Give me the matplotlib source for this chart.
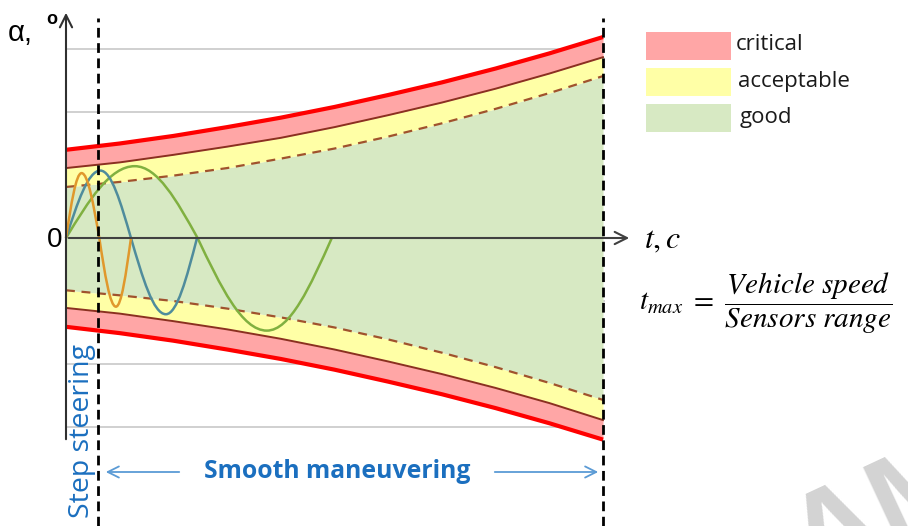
import numpy as np
import matplotlib
matplotlib.use("Agg")
import matplotlib.pyplot as plt
from matplotlib.patches import Rectangle, FancyArrowPatch, PathPatch
from matplotlib.path import Path

# envelope samples (t, degrees)
t_env = [0, 1, 2, 3, 4, 5, 6, 7, 8, 9, 10]
red_up = [1.40, 1.50, 1.62, 1.76, 1.91, 2.08, 2.27, 2.47, 2.69, 2.93, 3.19]
brown_up = [1.11, 1.20, 1.32, 1.45, 1.59, 1.76, 1.95, 2.15, 2.37, 2.61, 2.87]
dash_up = [0.81, 0.89, 0.99, 1.11, 1.26, 1.42, 1.61, 1.82, 2.05, 2.30, 2.57]
red_lo = [-1.41, -1.51, -1.63, -1.77, -1.92, -2.09, -2.28, -2.48, -2.70, -2.94, -3.20]
brown_lo = [-1.11, -1.20, -1.32, -1.45, -1.60, -1.77, -1.96, -2.16, -2.38, -2.62, -2.89]
dash_lo = [-0.83, -0.91, -1.00, -1.12, -1.26, -1.42, -1.61, -1.82, -2.05, -2.30, -2.57]

# steering responses: zero crossings and extremes
t_orange = [0, 0.29, 0.62, 0.93, 1.21]
a_orange = [0, 1.03, 0, -1.09, 0]
t_blue = [0, 0.64, 1.21, 1.86, 2.44]
a_blue = [0, 1.07, 0, -1.21, 0]
t_green = [0, 1.28, 2.45, 3.74, 4.95]
a_green = [0, 1.14, 0, -1.47, 0]

grid_levels = [-3, -2, -1, 1, 2, 3]
t_step = 0.6
t_end = 10

W, H = 908, 526
fig = plt.figure(figsize=(W / 100, H / 100), dpi=100)
ax = fig.add_axes([0, 0, 1, 1])
# 53.7 px per t unit, 63 px per degree, origin at pixel (66, 238)
ax.set_xlim(-66 / 53.7, (W - 66) / 53.7)
ax.set_ylim(-(H - 238) / 63, 238 / 63)
ax.axis("off")


def fx(px):
    return px / W


def fy(py):
    return 1 - py / H


def wave(ts, ys, color):
    # smooth quarter-wave bezier segments through zero crossings and extremes
    verts = [(ts[0], ys[0])]
    codes = [Path.MOVETO]
    for i in range(len(ts) - 1):
        x0, y0, x1, y1 = ts[i], ys[i], ts[i + 1], ys[i + 1]
        dx = x1 - x0
        if y0 == 0:
            c1 = (x0 + 0.334 * dx, 0.525 * y1)
            c2 = (x0 + 0.64 * dx, y1)
        else:
            c1 = (x0 + 0.36 * dx, y0)
            c2 = (x0 + 0.666 * dx, 0.525 * y0)
        verts += [c1, c2, (x1, y1)]
        codes += [Path.CURVE4] * 3
    ax.add_patch(PathPatch(Path(verts, codes), fc="none", ec=color, lw=1.8,
                           zorder=5))


ax.hlines(grid_levels, 0, t_end + 0.03, color="#c8c8c8", lw=1.2, zorder=1)

ax.fill_between(t_env, dash_lo, dash_up, color="#d7e9c3", lw=0, zorder=2)
ax.fill_between(t_env, dash_up, brown_up, color="#ffffa6", lw=0, zorder=2)
ax.fill_between(t_env, dash_lo, brown_lo, color="#ffffa6", lw=0, zorder=2)
ax.fill_between(t_env, brown_up, red_up, color="#ffa6a6", lw=0, zorder=2)
ax.fill_between(t_env, brown_lo, red_lo, color="#ffa6a6", lw=0, zorder=2)

for y in (dash_up, dash_lo):
    ax.plot(t_env, y, color="#a0522d", lw=1.6, ls=(0, (4, 3)), zorder=4)
for y in (brown_up, brown_lo):
    ax.plot(t_env, y, color="#8b3020", lw=1.4, zorder=4)
for y in (red_up, red_lo):
    ax.plot(t_env, y, color="#ff0000", lw=3, zorder=4, solid_capstyle="butt")

wave(t_green, a_green, "#80b040")
wave(t_blue, a_blue, "#4f8c9c")
wave(t_orange, a_orange, "#e0982c")

# axes with arrows
ax.annotate("", xy=(0, 238 / 63 - 10 / 63), xytext=(0, -(442 - 238) / 63),
            arrowprops=dict(arrowstyle="->", color="#303030", lw=1.5,
                            mutation_scale=22), zorder=6)
ax.annotate("", xy=((632 - 66) / 53.7, 0), xytext=(0, 0),
            arrowprops=dict(arrowstyle="->", color="#404040", lw=1.5,
                            mutation_scale=22), zorder=6)

for tv in (t_step, t_end):
    ax.plot([tv, tv], [-(H - 238) / 63, (238 - 18) / 63], color="black", lw=2,
            ls=(0, (3.5, 2)), zorder=7)

# labels
fig.text(fx(8), fy(33), "α,", fontsize=21, family="Liberation Sans", va="center")
fig.text(fx(46), fy(20), "o", fontsize=13, family="Liberation Sans",
         fontweight="bold", va="center")
fig.text(fx(62), fy(240), "0", fontsize=20, family="Liberation Sans",
         ha="right", va="center")

plt.rcParams["mathtext.fontset"] = "stix"
fig.text(fx(644), fy(240), "$t, c$", fontsize=23, va="center")
fig.text(fx(639), fy(303), r"$t_{max}\ =\ \dfrac{Vehicle\ speed}{Sensors\ range}$",
         fontsize=21, va="center")

blue_txt = "#1b6fbf"
fig.text(fx(82), fy(431), "Step steering", fontsize=20.5, family="Open Sans",
         rotation=90, color=blue_txt, ha="center", va="center")
fig.text(fx(337), fy(472), "Smooth maneuvering", fontsize=17.8, family="Open Sans",
         fontweight="bold", color=blue_txt, ha="center", va="center")
arr_kw = dict(arrowstyle="->", color="#5b9bd5", lw=1.3, mutation_scale=20)
fig.patches.append(FancyArrowPatch((fx(182), fy(472)), (fx(103), fy(472)),
                                   transform=fig.transFigure, **arr_kw))
fig.patches.append(FancyArrowPatch((fx(492), fy(472)), (fx(601), fy(472)),
                                   transform=fig.transFigure, **arr_kw))

# legend
leg_items = [("critical", "#ffa6a6"), ("acceptable", "#ffffa6"), ("good", "#d7e9c3")]
for i, (lab, col) in enumerate(leg_items):
    y0 = 32 + i * 36
    fig.patches.append(Rectangle((fx(646), fy(y0 + 28)), 85 / W, 28 / H,
                                 transform=fig.transFigure, color=col, lw=0))
    fig.text(fx(736 + 2 * i), fy(y0 + 13), lab, fontsize=16, family="Open Sans",
             va="center", color="#1a1a1a")

# faint watermark, clipped by the figure edge as in the source
fig.text(fx(885), fy(515), "AM", fontsize=90, family="Liberation Sans",
         fontweight="bold", color="#d3d3d3", rotation=25, ha="center", va="center",
         zorder=0)

fig.savefig("out.png", dpi=100)
